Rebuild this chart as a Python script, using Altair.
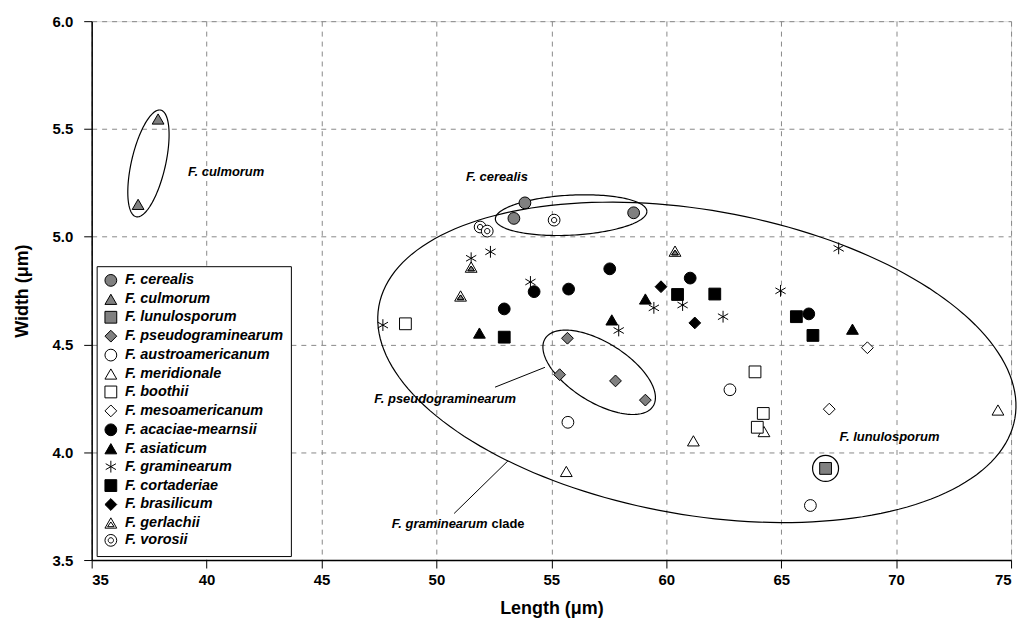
import altair as alt
import pandas as pd
import numpy as np

# ---------------- data ----------------
species = ["F. cerealis", "F. culmorum", "F. lunulosporum", "F. pseudograminearum",
           "F. austroamericanum", "F. meridionale", "F. boothii", "F. mesoamericanum",
           "F. acaciae-mearnsii", "F. asiaticum", "F. graminearum", "F. cortaderiae",
           "F. brasilicum", "F. gerlachii", "F. vorosii"]

cerealis_x = [53.85, 53.37, 58.58]
cerealis_y = [5.157, 5.085, 5.111]
culmorum_x = [37.02, 37.89]
culmorum_y = [5.15, 5.546]
lunulosporum_x = [66.93]
lunulosporum_y = [3.925]
pseudo_x = [55.70, 55.36, 57.79, 59.09]
pseudo_y = [4.529, 4.360, 4.331, 4.242]
austro_x = [55.72, 62.77, 66.27]
austro_y = [4.139, 4.29, 3.753]
meridionale_x = [55.65, 61.18, 64.25, 74.43]
meridionale_y = [3.911, 4.053, 4.096, 4.196]
boothii_x = [48.65, 63.86, 64.22, 63.96]
boothii_y = [4.596, 4.373, 4.18, 4.116]
meso_x = [68.75, 67.09]
meso_y = [4.485, 4.20]
acaciae_x = [52.95, 54.25, 55.75, 57.54, 61.04, 66.20]
acaciae_y = [4.665, 4.745, 4.757, 4.851, 4.808, 4.642]
asiaticum_x = [51.87, 57.63, 59.09, 68.10]
asiaticum_y = [4.553, 4.614, 4.711, 4.571]
gram_x = [51.51, 52.35, 54.09, 47.67, 59.46, 60.71, 57.93, 67.50, 64.97, 62.47]
gram_y = [4.90, 4.93, 4.79, 4.59, 4.67, 4.683, 4.565, 4.946, 4.749, 4.629]
cortaderiae_x = [52.95, 60.49, 62.11, 65.66, 66.38]
cortaderiae_y = [4.534, 4.732, 4.734, 4.629, 4.542]
brasilicum_x = [59.77, 61.24]
brasilicum_y = [4.768, 4.60]
gerlachii_x = [51.51, 51.05, 60.38]
gerlachii_y = [4.857, 4.723, 4.931]
vorosii_x = [55.12, 51.90, 52.21]
vorosii_y = [5.077, 5.045, 5.026]

all_x = [cerealis_x, culmorum_x, lunulosporum_x, pseudo_x, austro_x, meridionale_x,
         boothii_x, meso_x, acaciae_x, asiaticum_x, gram_x, cortaderiae_x,
         brasilicum_x, gerlachii_x, vorosii_x]
all_y = [cerealis_y, culmorum_y, lunulosporum_y, pseudo_y, austro_y, meridionale_y,
         boothii_y, meso_y, acaciae_y, asiaticum_y, gram_y, cortaderiae_y,
         brasilicum_y, gerlachii_y, vorosii_y]

GRAY = "#808080"
fills = [GRAY, GRAY, GRAY, GRAY, "white", "white", "white", "white",
         "black", "black", "black", "black", "black", "white", "white"]

ASTERISK = "M0,-1L0,1M-0.87,-0.5L0.87,0.5M-0.87,0.5L0.87,-0.5"
GERL = "M0,-0.95L1,0.8L-1,0.8ZM0,-0.25L0.55,0.55L-0.55,0.55Z"
GERL_INNER = "M0,-0.25L0.55,0.55L-0.55,0.55Z"
VOROSII = ("M1,0A1,1 0 1,1 -1,0A1,1 0 1,1 1,0Z"
           "M0.45,0A0.45,0.45 0 1,1 -0.45,0A0.45,0.45 0 1,1 0.45,0Z")
shapes = ["circle", "triangle-up", "square", "diamond",
          "circle", "triangle-up", "square", "diamond",
          "circle", "triangle-up", ASTERISK, "square",
          "diamond", GERL, VOROSII]

rows = []
for sp, xs_, ys_ in zip(species, all_x, all_y):
    for xv, yv in zip(xs_, ys_):
        rows.append({"species": sp, "length": xv, "width": yv})
df = pd.DataFrame(rows)

# ellipse annotations (data units; semi-axes in x-units, angle in screen degrees)
ell_names = ["clade", "cerealis", "pseudo", "culmorum"]
ell_cx = [61.33, 55.86, 57.08, 37.47]
ell_cy = [4.417, 5.10, 4.371, 5.34]
ell_a = [14.05, 3.30, 2.77, 2.38]
ell_b = [6.63, 0.87, 1.30, 0.74]
ell_ang = [10, -3, 32, -77]

W, H = 923, 541
X0, X1, Y0, Y1 = 35, 75, 3.5, 6.0
ratio = (W / (X1 - X0)) / (H / (Y1 - Y0))

erows = []
t = np.linspace(0, 2 * np.pi, 181)
for n, cx, cy, a, b, ang in zip(ell_names, ell_cx, ell_cy, ell_a, ell_b, ell_ang):
    p = np.deg2rad(ang)
    dx = a * np.cos(t) * np.cos(p) - b * np.sin(t) * np.sin(p)
    dy = a * np.cos(t) * np.sin(p) + b * np.sin(t) * np.cos(p)
    for i, (u, v) in enumerate(zip(dx, dy)):
        erows.append({"e": n, "i": i, "x": cx + u, "y": cy - v * ratio})
edf = pd.DataFrame(erows)

lab_text = ["F. culmorum", "F. cerealis", "F. pseudograminearum", "F. lunulosporum"]
lab_x = [40.85, 52.63, 50.38, 69.71]
lab_y = [5.30, 5.275, 4.246, 4.071]
ldf = pd.DataFrame({"t": lab_text, "x": lab_x, "y": lab_y})

clade_x, clade_y = 52.22, 3.665
leader_x = [52.55, 50.77]
leader_y = [4.302, 3.716]
leader_x2 = [54.72, 53.11]
leader_y2 = [4.394, 3.960]
rdf = pd.DataFrame({"x": leader_x, "y": leader_y, "x2": leader_x2, "y2": leader_y2})

FONT = "Liberation Sans"

xs = alt.Scale(domain=[X0, X1], nice=False, zero=False)
ys = alt.Scale(domain=[Y0, Y1], nice=False, zero=False)

xax = alt.Axis(values=list(range(35, 76, 5)), format="d", title="Length (μm)",
               grid=True, gridDash=[5, 5], gridColor="#888888", gridWidth=1,
               tickSize=8, tickColor="black", domainColor="black", domainWidth=1.5,
               labelFont=FONT, labelFontSize=15, labelFontWeight="bold", labelColor="black",
               labelPadding=5, titleFont=FONT, titleFontSize=18, titleFontWeight="bold",
               titleColor="black", titlePadding=12)
yax = alt.Axis(values=[3.5, 4.0, 4.5, 5.0, 5.5, 6.0], format=".1f", title="Width (μm)",
               grid=True, gridDash=[5, 5], gridColor="#888888", gridWidth=1,
               tickSize=8, tickColor="black", domainColor="black", domainWidth=1.5,
               labelFont=FONT, labelFontSize=15, labelFontWeight="bold", labelColor="black",
               labelPadding=11, titleFont=FONT, titleFontSize=18, titleFontWeight="bold",
               titleColor="black", titlePadding=21)

legend = alt.Legend(title=None, orient="none", legendX=5, legendY=246,
                    strokeColor="black", fillColor="white", padding=7,
                    labelFont=FONT, labelFontSize=14.5, labelFontStyle="italic",
                    labelFontWeight="bold", labelColor="black", labelLimit=300,
                    symbolSize=140, symbolStrokeWidth=1,
                    rowPadding=2, labelOffset=7)

ellipses = alt.Chart(edf).mark_line(color="black", strokeWidth=1.2).encode(
    x=alt.X("x:Q", scale=xs, axis=xax),
    y=alt.Y("y:Q", scale=ys, axis=yax),
    detail="e:N",
    order="i:Q",
)

ring = alt.Chart(df[df.species == "F. lunulosporum"]).mark_point(
    shape="circle", size=680, filled=False, color="black", strokeWidth=1.2, opacity=1
).encode(x=alt.X("length:Q", scale=xs), y=alt.Y("width:Q", scale=ys))

points = alt.Chart(df).mark_point(filled=True, strokeWidth=1,
                                  size=140, opacity=1).encode(
    x=alt.X("length:Q", scale=xs),
    y=alt.Y("width:Q", scale=ys),
    fill=alt.Fill("species:N", scale=alt.Scale(domain=species, range=fills),
                  sort=species, legend=legend),
    shape=alt.Shape("species:N", scale=alt.Scale(domain=species, range=shapes),
                    sort=species, legend=legend),
    stroke=alt.Stroke("species:N", scale=alt.Scale(domain=species, range=["black"] * len(species)),
                      sort=species, legend=legend),
)

inner = alt.Chart(df[df.species == "F. gerlachii"]).mark_point(
    shape=GERL_INNER, size=140, filled=True, fill=GRAY, stroke="black",
    strokeWidth=1, opacity=1
).encode(x=alt.X("length:Q", scale=xs), y=alt.Y("width:Q", scale=ys))

rules = alt.Chart(rdf).mark_rule(color="black", strokeWidth=1).encode(
    x=alt.X("x:Q", scale=xs), y=alt.Y("y:Q", scale=ys), x2="x2:Q", y2="y2:Q")

labels = alt.Chart(ldf).mark_text(font=FONT, fontSize=13, fontStyle="italic",
                                  fontWeight="bold", color="black", align="center",
                                  baseline="middle").encode(
    x=alt.X("x:Q", scale=xs), y=alt.Y("y:Q", scale=ys), text="t:N")

clade1 = alt.Chart(pd.DataFrame({"x": [clade_x], "y": [clade_y], "t": ["F. graminearum"]})).mark_text(
    font=FONT, fontSize=13, fontStyle="italic", fontWeight="bold", color="black",
    align="right", baseline="middle").encode(
    x=alt.X("x:Q", scale=xs), y=alt.Y("y:Q", scale=ys), text="t:N")
clade2 = alt.Chart(pd.DataFrame({"x": [clade_x], "y": [clade_y], "t": ["clade"]})).mark_text(
    font=FONT, fontSize=13, fontWeight="bold", color="black",
    align="left", baseline="middle", dx=4).encode(
    x=alt.X("x:Q", scale=xs), y=alt.Y("y:Q", scale=ys), text="t:N")

chart = alt.layer(ellipses, ring, points, inner, rules, labels, clade1, clade2).properties(
    width=W, height=H
).configure_view(stroke="black", strokeWidth=1.5).configure(background="white")

chart.save("out.html", embed_options={"renderer": "svg", "actions": False})
